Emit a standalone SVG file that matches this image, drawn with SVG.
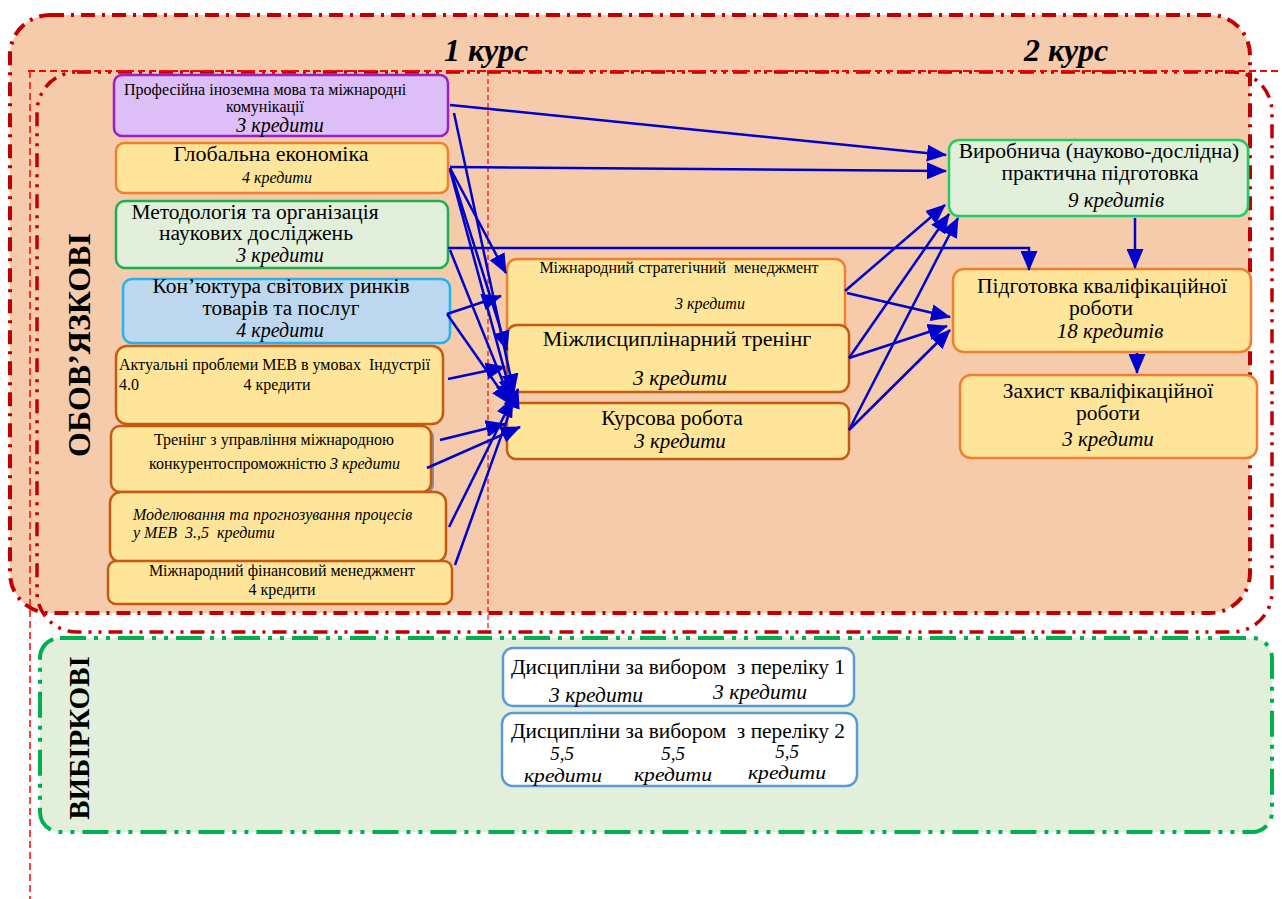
<svg xmlns="http://www.w3.org/2000/svg" width="1282" height="899" viewBox="0 0 1282 899" font-family="'Liberation Serif', serif">
<defs>
<marker id="ah" markerUnits="userSpaceOnUse" markerWidth="20" markerHeight="17" viewBox="0 0 20 17" refX="19" refY="8.5" orient="auto">
<path d="M0,0 L20,8.5 L0,17 Z" fill="#0000CC"/>
</marker>
</defs>
<style>
text{font-family:'Liberation Serif',serif;fill:#000}
.it{font-style:italic}
.node rect{stroke-width:2.5}
.y{fill:#FFE599;stroke:#F08030}
.yb{fill:#FFE599;stroke:#C55A11;stroke-width:3}
.c line,.c polyline{stroke:#0000CC;stroke-width:2.5;fill:none;marker-end:url(#ah)}
</style>
<rect width="1282" height="899" fill="#fff"/>
<g id="frames">
<rect x="10" y="15" width="1240" height="598" rx="40" fill="#F6CBAC" stroke="#C00000" stroke-width="4" stroke-dasharray="14 7 3 7"/>
<rect x="37" y="72" width="1235" height="560" rx="40" fill="none" stroke="#C00000" stroke-width="3.5" stroke-dasharray="14 7 3 7 3 7"/>
<line x1="28" y1="71" x2="1282" y2="71" stroke="#FF0000" stroke-width="2" stroke-dasharray="7 4"/>
<line x1="30" y1="71" x2="30" y2="899" stroke="#FF0000" stroke-width="1.5" stroke-dasharray="7 4"/>
<line x1="488" y1="71" x2="488" y2="632" stroke="#FF0000" stroke-width="1.2" stroke-dasharray="5 3"/>
<rect x="40" y="638" width="1232" height="194" rx="20" fill="#E2EFDA" stroke="#00B050" stroke-width="4" stroke-dasharray="26 8 4 8 4 8"/>
<text x="486" y="61" font-size="32" font-weight="bold" class="it" text-anchor="middle">1 курс</text>
<text x="1066" y="61" font-size="32" font-weight="bold" class="it" text-anchor="middle">2 курс</text>
<text transform="translate(90,345) rotate(-90)" font-size="32" font-weight="bold" text-anchor="middle">ОБОВ’ЯЗКОВІ</text>
<text transform="translate(89,738) rotate(-90)" font-size="29" font-weight="bold" text-anchor="middle">ВИБІРКОВІ</text>
</g>
<g id="n1" class="node"><rect x="114" y="75" width="334" height="61" rx="8" fill="#DDBEF7" stroke="#9B1FC8"/>
<text x="124" y="95" font-size="16">Професійна іноземна мова та міжнародні</text>
<text x="265" y="112" font-size="16" text-anchor="middle">комунікації</text>
<text x="280" y="132" font-size="20" class="it" text-anchor="middle">3 кредити</text></g>
<g id="n2" class="node"><rect x="116" y="143" width="332" height="50" rx="8" class="y"/>
<text x="271" y="161" font-size="22" text-anchor="middle">Глобальна економіка</text>
<text x="277" y="183" font-size="16" class="it" text-anchor="middle">4 кредити</text></g>
<g id="n3" class="node"><rect x="116" y="201" width="332" height="67" rx="9" fill="#E2EFDA" stroke="#1BAF50"/>
<text x="255" y="219" font-size="20" text-anchor="middle" textLength="247" lengthAdjust="spacingAndGlyphs">Методологія та організація</text>
<text x="256" y="240" font-size="20" text-anchor="middle" textLength="194" lengthAdjust="spacingAndGlyphs">наукових досліджень</text>
<text x="280" y="262" font-size="20" class="it" text-anchor="middle">3 кредити</text></g>
<g id="n4" class="node"><rect x="123" y="279" width="327" height="64" rx="9" fill="#BDD7EE" stroke="#1FB5F0"/>
<text x="281" y="293" font-size="20" text-anchor="middle" textLength="257" lengthAdjust="spacingAndGlyphs">Кон’юктура світових ринків</text>
<text x="281" y="315" font-size="20" text-anchor="middle" textLength="157" lengthAdjust="spacingAndGlyphs">товарів та послуг</text>
<text x="280" y="337" font-size="20" class="it" text-anchor="middle">4 кредити</text></g>
<g id="n5" class="node"><rect x="116" y="346" width="327" height="78" rx="11" class="yb"/>
<text x="119" y="370" font-size="16" xml:space="preserve">Актуальні проблеми МЕВ в умовах  Індустрії</text>
<text x="119" y="390" font-size="16">4.0</text>
<text x="277" y="390" font-size="16" text-anchor="middle">4 кредити</text></g>
<g id="n6" class="node"><rect x="114" y="428" width="320" height="66" rx="9" fill="#8E8E8E" stroke="none"/>
<rect x="111" y="426" width="320" height="66" rx="9" class="yb"/>
<text x="274" y="445" font-size="16" text-anchor="middle">Тренінг з управління міжнародною</text>
<text x="149" y="469" font-size="16">конкурентоспроможністю <tspan class="it">3 кредити</tspan></text></g>
<g id="n7" class="node"><rect x="110" y="492" width="336" height="70" rx="11" class="yb"/>
<text x="133" y="520" font-size="16" class="it">Моделювання та прогнозування процесів</text>
<text x="133" y="538" font-size="16" class="it" xml:space="preserve">у МЕВ  3.,5  кредити</text></g>
<g id="n8" class="node"><rect x="108" y="561" width="344" height="43" rx="8" class="yb" style="stroke-width:2.5"/>
<text x="282" y="576" font-size="16" text-anchor="middle">Міжнародний фінансовий менеджмент</text>
<text x="282" y="595" font-size="16" text-anchor="middle">4 кредити</text></g>
<g id="nA" class="node"><rect x="507" y="259" width="338" height="82" rx="10" class="y"/>
<text x="679" y="273" font-size="16" text-anchor="middle" xml:space="preserve">Міжнародний стратегічний  менеджмент</text>
<text x="710" y="309" font-size="16" class="it" text-anchor="middle">3 кредити</text></g>
<g id="nB" class="node"><rect x="507" y="325" width="342" height="67" rx="10" class="y" style="stroke:#C55A11"/>
<text x="677" y="346" font-size="22" text-anchor="middle">Міжлисциплінарний тренінг</text>
<text x="680" y="385" font-size="21.5" class="it" text-anchor="middle">3 кредити</text></g>
<g id="nC" class="node"><rect x="507" y="403" width="342" height="56" rx="9" class="y" style="stroke:#C55A11"/>
<text x="672" y="425" font-size="21.5" text-anchor="middle">Курсова робота</text>
<text x="680" y="448" font-size="21" class="it" text-anchor="middle">3 кредити</text></g>
<g id="nD" class="node"><rect x="949" y="140" width="299" height="76" rx="10" fill="#E2EFDA" stroke="#22CC66"/>
<text x="1099" y="158" font-size="21.5" text-anchor="middle">Виробнича (науково-дослідна)</text>
<text x="1100" y="180" font-size="21.5" text-anchor="middle">практична підготовка</text>
<text x="1116" y="207" font-size="21" class="it" text-anchor="middle">9 кредитів</text></g>
<g id="nE" class="node"><rect x="953" y="269" width="298" height="83" rx="11" class="y"/>
<text x="1102" y="293" font-size="20" text-anchor="middle" textLength="250" lengthAdjust="spacingAndGlyphs">Підготовка кваліфікаційної</text>
<text x="1101" y="315" font-size="20" text-anchor="middle" textLength="64" lengthAdjust="spacingAndGlyphs">роботи</text>
<text x="1110" y="338" font-size="21" class="it" text-anchor="middle">18 кредитів</text></g>
<g id="nF" class="node"><rect x="960" y="375" width="297" height="83" rx="11" class="y"/>
<text x="1108" y="398" font-size="21.5" text-anchor="middle">Захист кваліфікаційної</text>
<text x="1108" y="420" font-size="21.5" text-anchor="middle">роботи</text>
<text x="1108" y="446" font-size="21" class="it" text-anchor="middle">3 кредити</text></g>
<g id="nG" class="node"><rect x="503" y="648" width="351" height="58" rx="10" fill="#fff" stroke="#5B9BD5"/>
<text x="678" y="674" font-size="20" text-anchor="middle" textLength="334" lengthAdjust="spacingAndGlyphs" xml:space="preserve">Дисципліни за вибором  з переліку 1</text>
<text x="596" y="702" font-size="20" class="it" text-anchor="middle" textLength="94" lengthAdjust="spacingAndGlyphs">3 кредити</text>
<text x="760" y="699" font-size="20" class="it" text-anchor="middle" textLength="94" lengthAdjust="spacingAndGlyphs">3 кредити</text></g>
<g id="nH" class="node"><rect x="502" y="713" width="355" height="73" rx="11" fill="#fff" stroke="#5B9BD5"/>
<text x="678" y="738" font-size="20" text-anchor="middle" textLength="334" lengthAdjust="spacingAndGlyphs" xml:space="preserve">Дисципліни за вибором  з переліку 2</text>
<text x="562" y="760" font-size="19" class="it" text-anchor="middle">5,5</text>
<text x="563" y="782" font-size="19" class="it" text-anchor="middle" textLength="78" lengthAdjust="spacingAndGlyphs">кредити</text>
<text x="673" y="760" font-size="19" class="it" text-anchor="middle">5,5</text>
<text x="673" y="781" font-size="19" class="it" text-anchor="middle" textLength="78" lengthAdjust="spacingAndGlyphs">кредити</text>
<text x="787" y="758" font-size="19" class="it" text-anchor="middle">5,5</text>
<text x="787" y="779" font-size="19" class="it" text-anchor="middle" textLength="78" lengthAdjust="spacingAndGlyphs">кредити</text></g>
<g id="connectors" class="c">
<line x1="450" y1="105" x2="946" y2="155"/>
<line x1="450" y1="167" x2="946" y2="171"/>
<polyline points="448,248 1029,248 1029,270"/>
<line x1="454" y1="113" x2="514" y2="393"/>
<line x1="450" y1="168" x2="506" y2="273"/>
<line x1="450" y1="168" x2="507" y2="350"/>
<line x1="450" y1="170" x2="512" y2="398"/>
<line x1="450" y1="250" x2="511" y2="402"/>
<line x1="447" y1="314" x2="501" y2="296"/>
<line x1="447" y1="314" x2="510" y2="404"/>
<line x1="448" y1="379" x2="505" y2="367"/>
<line x1="440" y1="440" x2="505" y2="424"/>
<line x1="427" y1="468" x2="520" y2="427"/>
<line x1="449" y1="527" x2="513" y2="398"/>
<line x1="455" y1="565" x2="518" y2="389"/>
<line x1="845" y1="291" x2="945" y2="205"/>
<line x1="847" y1="293" x2="950" y2="317"/>
<line x1="849" y1="358" x2="949" y2="214"/>
<line x1="849" y1="358" x2="947" y2="326"/>
<line x1="849" y1="430" x2="958" y2="218"/>
<line x1="849" y1="430" x2="950" y2="330"/>
<line x1="1135" y1="218" x2="1135" y2="268"/>
<line x1="1137" y1="353" x2="1137" y2="373"/>
</g>
</svg>
